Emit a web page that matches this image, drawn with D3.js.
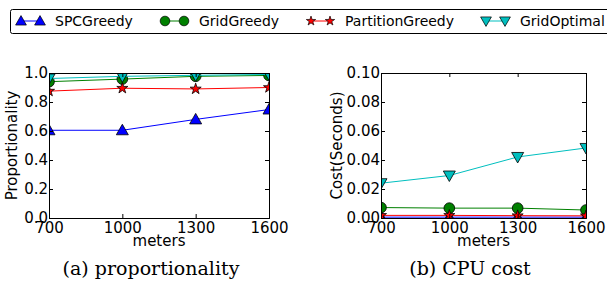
<!DOCTYPE html>
<html>
<head>
<meta charset="utf-8">
<script src="https://cdn.jsdelivr.net/npm/d3@7"></script>
<style>
  body { margin: 0; background: #fff; }
  text { font-family: "DejaVu Sans", sans-serif; }
</style>
</head>
<body>
<div id="chart"></div>
<script>
// data
const meters = [700, 1000, 1300, 1600]
const series_names = ['SPCGreedy', 'GridGreedy', 'PartitionGreedy', 'GridOptimal']

const prop_spc = [0.605, 0.605, 0.68, 0.748]
const prop_grid = [0.94, 0.958, 0.977, 0.983]
const prop_part = [0.875, 0.895, 0.89, 0.9]
const prop_opt = [0.962, 0.977, 0.984, 0.99]

const cost_spc = [0.0006, 0.0006, 0.0006, 0.0006]
const cost_grid = [0.0072, 0.0068, 0.0068, 0.0055]
const cost_part = [0.0018, 0.0018, 0.0016, 0.0015]
const cost_opt = [0.024, 0.0293, 0.0421, 0.0483]

const prop_ticks = [0, 0.2, 0.4, 0.6, 0.8, 1.0]
const cost_ticks = [0, 0.02, 0.04, 0.06, 0.08, 0.10]

const colors = ['#0000ff', '#008000', '#ff0000', '#00bfbf']
const marker_types = ['tri_up', 'circle', 'star', 'tri_down']

var W = 607, H = 282
var svg = d3.select('#chart').append('svg')
    .attr('width', W).attr('height', H)

// marker path
const marker = (type) => {
    if (type == 'circle') return d3.symbol(d3.symbolCircle, 90)()
    if (type == 'star') return d3.symbol(d3.symbolStar, 38)()
    if (type == 'tri_up') return 'M0,-6L6,4.5L-6,4.5Z'
    return 'M0,6L6,-4.5L-6,-4.5Z'
}

// legend
var leg = svg.append('g')
leg.append('rect')
    .attr('x', 10.5).attr('y', 9.5).attr('width', 605).attr('height', 24)
    .attr('rx', 2).attr('fill', '#fff').attr('stroke', '#000').attr('stroke-width', 1)
const leg_x = [21, 165, 311, 486]
series_names.forEach((name, i) => {
    let x0 = leg_x[i], x1 = leg_x[i] + 19, y = 21
    leg.append('line').attr('x1', x0).attr('x2', x1).attr('y1', y).attr('y2', y)
        .attr('stroke', colors[i]).attr('stroke-width', 1)
    ;[x0, x1].forEach(x => {
        leg.append('path').attr('d', marker(marker_types[i]))
            .attr('transform', 'translate(' + x + ',' + y + ')' + (marker_types[i] == 'star' ? ' scale(0.85)' : ' scale(0.9)'))
            .attr('fill', colors[i]).attr('stroke', '#000').attr('stroke-width', 0.8)
    })
    leg.append('text').attr('x', x1 + 15).attr('y', y + 5)
        .style('font-size', '14px').text(name)
})

const draw_panel = (id, left, right, ymax, yticks, fmt, ylabel, ylabel_x, data, caption, cap_x) => {
    var top = 73, bottom = 218
    var x = d3.scaleLinear().domain([700, 1600]).range([left, right])
    var y = d3.scaleLinear().domain([0, ymax]).range([bottom, top])
    var g = svg.append('g')

    g.append('clipPath').attr('id', 'clip' + id)
        .append('rect').attr('x', left).attr('y', top).attr('width', right - left).attr('height', bottom - top)

    var plot = g.append('g').attr('clip-path', 'url(#clip' + id + ')')
    data.forEach((vals, i) => {
        plot.append('path')
            .datum(vals)
            .attr('fill', 'none')
            .attr('stroke', colors[i])
            .attr('stroke-width', 1)
            .attr('d', d3.line().x((d, j) => x(meters[j])).y(d => y(d)))
        plot.selectAll('.m' + i)
            .data(vals)
            .enter()
            .append('path')
            .attr('d', marker(marker_types[i]))
            .attr('transform', (d, j) => 'translate(' + x(meters[j]) + ',' + y(d) + ')')
            .attr('fill', colors[i])
            .attr('stroke', '#000')
            .attr('stroke-width', 0.8)
    })

    // axes (inward ticks on all sides)
    var axis_b = d3.axisBottom(x).tickValues(meters).tickSize(-4).tickPadding(4).tickFormat(d3.format('d'))
    var axis_t = d3.axisTop(x).tickValues(meters).tickSize(-4).tickFormat('')
    var axis_l = d3.axisLeft(y).tickValues(yticks).tickSize(-4).tickPadding(1).tickFormat(fmt)
    var axis_r = d3.axisRight(y).tickValues(yticks).tickSize(-4).tickFormat('')

    g.append('g').attr('transform', 'translate(0,' + bottom + ')').call(axis_b)
    g.append('g').attr('transform', 'translate(0,' + top + ')').call(axis_t)
    g.append('g').attr('transform', 'translate(' + left + ',0)').call(axis_l)
    g.append('g').attr('transform', 'translate(' + right + ',0)').call(axis_r)
    g.selectAll('.domain').attr('stroke', '#000').attr('stroke-width', 1)
    g.selectAll('.tick line').attr('stroke', '#000')
    g.selectAll('.tick text').style('font-size', '15px').style('font-family', '"DejaVu Sans", sans-serif').attr('fill', '#000')

    g.append('text').attr('x', (left + right) / 2).attr('y', 246)
        .attr('text-anchor', 'middle').style('font-size', '15px').text('meters')
    g.append('text')
        .attr('transform', 'translate(' + ylabel_x + ',' + ((top + bottom) / 2) + ') rotate(-90)')
        .attr('text-anchor', 'middle').style('font-size', '15px').text(ylabel)

    g.append('text').attr('x', cap_x).attr('y', 275)
        .attr('text-anchor', 'middle')
        .style('font-family', '"DejaVu Serif", serif').style('font-size', '19px')
        .text(caption)
}

draw_panel('a', 49, 269, 1.0, prop_ticks, d3.format('.1f'), 'Proportionality', 17,
    [prop_spc, prop_grid, prop_part, prop_opt], '(a) proportionality', 151)
draw_panel('b', 381, 586, 0.1, cost_ticks, d3.format('.2f'), 'Cost(Seconds)', 342,
    [cost_spc, cost_grid, cost_part, cost_opt], '(b) CPU cost', 470)
</script>
</body>
</html>
